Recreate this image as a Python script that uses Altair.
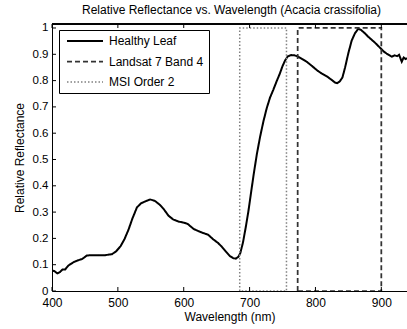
import altair as alt
import pandas as pd

# ---- data ----
wavelength = [400, 404, 408, 412, 416, 420, 425, 433, 440, 446, 453, 460, 470, 480, 491,
              497, 504, 510, 516, 522, 529, 535, 541, 549, 556, 564, 570, 577, 584, 592,
              600, 606, 615, 622, 630, 637, 645, 652, 658, 664, 670, 675, 679, 683, 686,
              690, 694, 698, 702, 706, 711, 716, 721, 726, 731, 736, 741, 746, 750, 754,
              758, 763, 768, 773, 780, 787, 795, 803, 810, 818, 825, 830, 833, 837, 841,
              845, 850, 855, 860, 865, 869, 875, 880, 890, 898, 904, 908, 912, 916, 920,
              924, 927, 931, 934, 937, 940]
reflectance = [0.078, 0.075, 0.067, 0.072, 0.082, 0.082, 0.097, 0.110, 0.117, 0.122, 0.135,
               0.136, 0.136, 0.136, 0.140, 0.150, 0.170, 0.197, 0.232, 0.275, 0.318, 0.333,
               0.340, 0.348, 0.343, 0.327, 0.310, 0.286, 0.272, 0.264, 0.260, 0.255, 0.236,
               0.228, 0.220, 0.214, 0.196, 0.183, 0.168, 0.150, 0.133, 0.125, 0.123, 0.130,
               0.145, 0.185, 0.240, 0.300, 0.370, 0.440, 0.520, 0.587, 0.645, 0.695, 0.735,
               0.765, 0.797, 0.827, 0.855, 0.877, 0.892, 0.897, 0.896, 0.892, 0.882, 0.871,
               0.855, 0.838, 0.826, 0.815, 0.802, 0.792, 0.790, 0.797, 0.812, 0.850, 0.905,
               0.952, 0.980, 0.997, 0.993, 0.980, 0.967, 0.945, 0.925, 0.910, 0.903, 0.897,
               0.891, 0.896, 0.893, 0.898, 0.872, 0.888, 0.882, 0.885]
series_names = ["Healthy Leaf", "Landsat 7 Band 4", "MSI Order 2"]
landsat_band = [773, 900]
msi_band = [685, 756]
band_top = 1.0
x_ticks = [400, 500, 600, 700, 800, 900]
y_ticks = [0, 0.1, 0.2, 0.3, 0.4, 0.5, 0.6, 0.7, 0.8, 0.9, 1.0]

# ---- build tables ----
rows = []
for i, (w, r) in enumerate(zip(wavelength, reflectance)):
    rows.append({"series": series_names[0], "x": w, "y": r, "order": i})


def band_rows(name, band):
    lo, hi = band
    pts = [(lo, 0), (lo, band_top), (hi, band_top), (hi, 0), (lo, 0)]
    return [{"series": name, "x": px, "y": py, "order": k} for k, (px, py) in enumerate(pts)]


rows += band_rows(series_names[1], landsat_band)
rows += band_rows(series_names[2], msi_band)
df = pd.DataFrame(rows)
xt = pd.DataFrame({"x": x_ticks})
yt = pd.DataFrame({"y": y_ticks})

W, H = 355, 267
FONT = "Liberation Sans"
xscale = alt.Scale(domain=[400, 939], nice=False, zero=False)
yscale = alt.Scale(domain=[0, 1.0152], nice=False, zero=False)

x_axis = alt.Axis(title="Wavelength (nm)", values=x_ticks, ticks=False, labelFlush=False,
                  labelPadding=6, grid=False, titlePadding=3,
                  domainColor="black", labelColor="black", titleColor="black",
                  labelFont=FONT, labelFontSize=12, titleFont=FONT,
                  titleFontSize=12, titleFontWeight="normal")
y_axis = alt.Axis(title="Relative Reflectance", values=y_ticks, format=".1~f",
                  ticks=False, labelFlush=False, labelPadding=4, grid=False, titlePadding=6,
                  domainColor="black", labelColor="black", titleColor="black",
                  labelFont=FONT, labelFontSize=11.5, titleFont=FONT,
                  titleFontSize=12, titleFontWeight="normal")

leg = alt.Legend(
    title=None, orient="none", legendX=7, legendY=6,
    symbolType="M-3.6,0H3.6", symbolSize=100, symbolOffset=15,
    labelFontSize=12, labelFont=FONT, labelColor="black", labelOffset=18,
    padding=5, rowPadding=8.5, strokeColor="black", fillColor="white",
)

lines = alt.Chart(df).mark_line(clip=True).encode(
    x=alt.X("x:Q", scale=xscale, axis=x_axis),
    y=alt.Y("y:Q", scale=yscale, axis=y_axis),
    color=alt.Color("series:N", scale=alt.Scale(domain=series_names,
                                                range=["#000000", "#333333", "#808080"]),
                    legend=leg),
    strokeDash=alt.StrokeDash("series:N", scale=alt.Scale(domain=series_names,
                                                          range=[[1, 0], [5, 3], [1.5, 2]]),
                              legend=leg),
    strokeWidth=alt.StrokeWidth("series:N", scale=alt.Scale(domain=series_names,
                                                            range=[2, 1.5, 1.2]),
                                legend=leg),
    detail="series:N",
    order="order:Q",
)

xt_bottom = alt.Chart(xt).mark_rule(color="black").encode(
    x=alt.X("x:Q", scale=xscale, axis=x_axis), y=alt.value(H), y2=alt.value(H - 4))
xt_top = alt.Chart(xt).mark_rule(color="black").encode(
    x=alt.X("x:Q", scale=xscale, axis=x_axis), y=alt.value(0), y2=alt.value(4))
yt_left = alt.Chart(yt).mark_rule(color="black").encode(
    y=alt.Y("y:Q", scale=yscale, axis=y_axis), x=alt.value(0), x2=alt.value(4))
top_border = alt.Chart(xt).mark_rule(color="black").encode(
    x=alt.value(0), x2=alt.value(W), y=alt.value(0))

chart = alt.layer(lines, xt_bottom, xt_top, yt_left, top_border).properties(
    width=W, height=H,
    title=alt.Title("Relative Reflectance vs. Wavelength (Acacia crassifolia)",
                    fontSize=12, font=FONT, fontWeight="normal", color="black",
                    offset=5, dx=2),
    autosize=alt.AutoSizeParams(type="none"),
    padding={"left": 52, "top": 24, "right": 0, "bottom": 38},
    background="white",
).configure_view(stroke=None)

chart.save("out.html", embed_options={"renderer": "svg", "actions": False})
